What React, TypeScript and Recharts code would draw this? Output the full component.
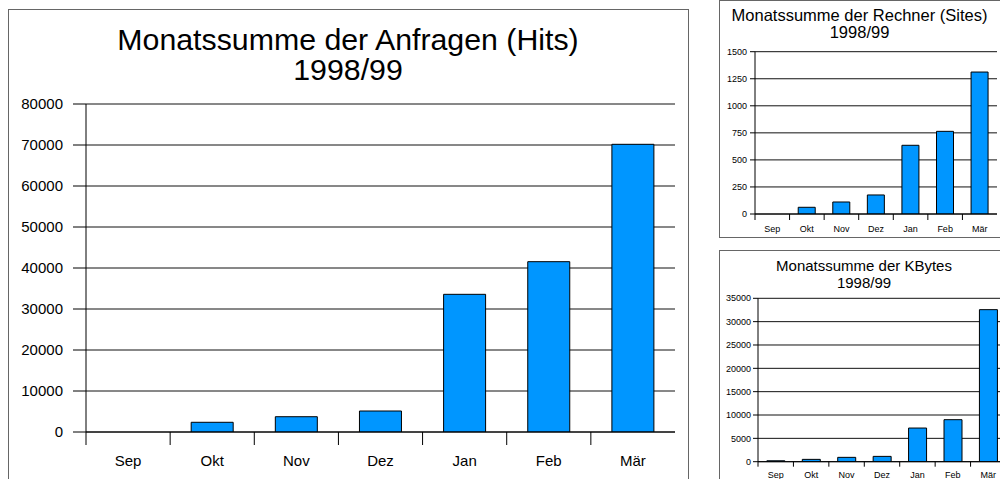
import React from 'react';
import { BarChart, Bar, XAxis, YAxis, CartesianGrid } from 'recharts';

const FONT = '"Liberation Sans", Arial, Helvetica, sans-serif';

const months = ['Sep', 'Okt', 'Nov', 'Dez', 'Jan', 'Feb', 'Mär'];
const hits = [0, 2370, 3730, 5120, 33580, 41540, 70170];
const sites = [0, 62, 111, 176, 635, 764, 1312];
const kbytes = [200, 500, 930, 1140, 7210, 9000, 32570];

const hitsTicks = [0, 10000, 20000, 30000, 40000, 50000, 60000, 70000, 80000];
const sitesTicks = [0, 250, 500, 750, 1000, 1250, 1500];
const kbytesTicks = [0, 5000, 10000, 15000, 20000, 25000, 30000, 35000];

const hitsTitle = ['Monatssumme der Anfragen (Hits)', '1998/99'];
const sitesTitle = ['Monatssumme der Rechner (Sites)', '1998/99'];
const kbytesTitle = ['Monatssumme der KBytes', '1998/99'];

const toRows = (vals: number[]) => months.map((m, i) => ({ month: m, value: vals[i] }));

function makeTick(n: number, plotW: number, fontSize: number, tickLen: number, gap: number) {
  const half = plotW / n / 2;
  return (props: any) => {
    const { x, y, payload } = props;
    const axisY = y - gap - tickLen;
    return (
      <g>
        <line x1={x - half} x2={x - half} y1={axisY} y2={axisY + tickLen} stroke="#000" strokeWidth={1} />
        <text x={x} y={y} dy="0.71em" textAnchor="middle" fontSize={fontSize} fontFamily={FONT} fill="#000">
          {payload.value}
        </text>
      </g>
    );
  };
}

type PanelProps = {
  left: number;
  top: number;
  width: number;
  height: number;
  margin: { top: number; right: number; left: number; bottom: number };
  yWidth: number;
  xHeight: number;
  values: number[];
  ticks: number[];
  fontSize: number;
  yTickSize: number;
  yTickMargin: number;
  xTickSize: number;
  xTickMargin: number;
};

function Panel(p: PanelProps) {
  const plotW = p.width - p.margin.left - p.margin.right - p.yWidth;
  const data = toRows(p.values);
  const max = p.ticks[p.ticks.length - 1];
  return (
    <div style={{ position: 'absolute', left: p.left, top: p.top }}>
      <BarChart width={p.width} height={p.height} data={data} margin={p.margin} barCategoryGap="25%">
        <CartesianGrid vertical={false} stroke="#111" strokeWidth={1} />
        <XAxis
          dataKey="month"
          interval={0}
          tickLine={false}
          axisLine={{ stroke: '#000' }}
          tickSize={p.xTickSize}
          tickMargin={p.xTickMargin}
          height={p.xHeight}
          tick={makeTick(months.length, plotW, p.fontSize, p.xTickSize, p.xTickMargin)}
        />
        <YAxis
          type="number"
          domain={[0, max]}
          ticks={p.ticks}
          interval={0}
          width={p.yWidth}
          tickSize={p.yTickSize}
          tickMargin={p.yTickMargin}
          axisLine={{ stroke: '#000' }}
          tickLine={{ stroke: '#000' }}
          tick={{ fontSize: p.fontSize, fontFamily: FONT, fill: '#000' }}
          allowDataOverflow
        />
        <Bar dataKey="value" fill="#0096FF" stroke="#000" strokeWidth={1} isAnimationActive={false} />
      </BarChart>
    </div>
  );
}

function Title({ lines, left, width, top, fontSize, lineHeight }: { lines: string[]; left: number; width: number; top: number; fontSize: number; lineHeight: number }) {
  return (
    <div
      style={{
        position: 'absolute',
        left,
        top,
        width,
        textAlign: 'center',
        fontFamily: FONT,
        fontSize,
        lineHeight: `${lineHeight}px`,
        color: '#000',
        whiteSpace: 'nowrap',
      }}
    >
      {lines.map((l, i) => (
        <div key={i}>{l}</div>
      ))}
    </div>
  );
}

const frame = (left: number, top: number, width: number, height: number): React.CSSProperties => ({
  position: 'absolute',
  left,
  top,
  width,
  height,
  border: '1px solid #666',
  boxSizing: 'border-box',
});

export default function App() {
  return (
    <div style={{ position: 'absolute', left: 0, top: 0, width: 1000, height: 479, overflow: 'hidden', background: '#fff' }}>
      <div style={frame(8, 9, 681, 480)} />
      <div style={frame(719, 0, 283, 238)} />
      <div style={frame(719, 250, 290, 240)} />

      <Title lines={hitsTitle} left={8} width={680} top={25} fontSize={30.3} lineHeight={30} />
      <Title lines={sitesTitle} left={719} width={281} top={7.2} fontSize={16.5} lineHeight={16.6} />
      <Title lines={kbytesTitle} left={719} width={290} top={257} fontSize={15} lineHeight={17} />

      <Panel
        left={0}
        top={0}
        width={690}
        height={479}
        margin={{ top: 104, right: 15, left: 26, bottom: 17 }}
        yWidth={60}
        xHeight={30}
        values={hits}
        ticks={hitsTicks}
        fontSize={15}
        yTickSize={13}
        yTickMargin={10}
        xTickSize={13}
        xTickMargin={10}
      />
      <Panel
        left={700}
        top={0}
        width={310}
        height={240}
        margin={{ top: 51.7, right: 13, left: 10, bottom: 6 }}
        yWidth={45}
        xHeight={20}
        values={sites}
        ticks={sitesTicks}
        fontSize={9}
        yTickSize={5}
        yTickMargin={3}
        xTickSize={6}
        xTickMargin={5.5}
      />
      <Panel
        left={700}
        top={250}
        width={320}
        height={240}
        margin={{ top: 48.3, right: 14, left: 10, bottom: 8.3 }}
        yWidth={48}
        xHeight={20}
        values={kbytes}
        ticks={kbytesTicks}
        fontSize={9}
        yTickSize={5}
        yTickMargin={2}
        xTickSize={5}
        xTickMargin={5}
      />
    </div>
  );
}
